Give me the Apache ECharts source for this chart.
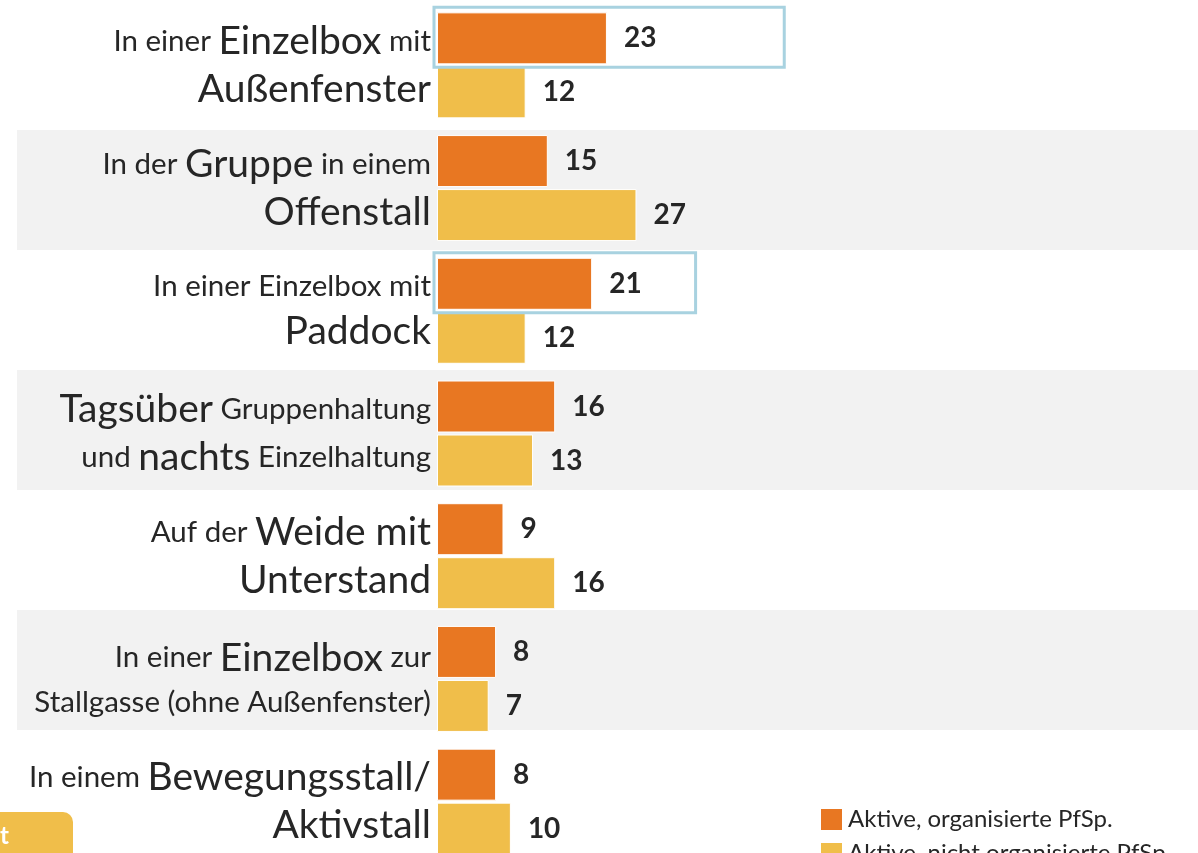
<!DOCTYPE html>
<html>
<head>
<meta charset="utf-8">
<script src="https://cdn.jsdelivr.net/npm/echarts@6/dist/echarts.min.js"></script>
<style>
  html, body { margin: 0; padding: 0; background: #fff; }
  #main { width: 1198px; height: 853px; }
</style>
</head>
<body>
<div id="main"></div>
<script>
// Kategorien (rich text: {b|...} = große Schrift)
var categories = [
  'In einer {b|Einzelbox} mit\n{b|Außenfenster}',
  'In der {b|Gruppe} in einem\n{b|Offenstall}',
  'In einer Einzelbox mit\n{b|Paddock}',
  '{b|Tagsüber} Gruppenhaltung\nund {b|nachts} Einzelhaltung',
  'Auf der {b|Weide mit}\n{b|Unterstand}',
  'In einer {b|Einzelbox} zur\nStallgasse (ohne Außenfenster)',
  'In einem {b|Bewegungsstall/}\n{b|Aktivstall}'
];
var seriesNames = ['Aktive, organisierte PfSp.', 'Aktive, nicht organisierte PfSp.'];
var organisiert = [23, 15, 21, 16, 9, 8, 8];
var nichtOrganisiert = [12, 27, 12, 13, 16, 7, 10];
// markierte Zeilen und Ende des Rahmens (Achsenwert)
var highlightRows = [0, 2];
var highlightEnd = [47, 35];

var ORANGE = '#e87722';
var YELLOW = '#f0be4a';
var TEXT = '#262626';
var FONT = 'Lato, "Open Sans", sans-serif';
var BAR_W = 52;
var BAR_GAP = 2;

var chart = echarts.init(document.getElementById('main'));

var option = {
  animation: false,
  backgroundColor: '#fff',
  textStyle: { fontFamily: FONT },
  grid: [
    // nur für die grauen Streifen
    { left: 17, right: 0, top: 10, height: 840, outerBoundsMode: 'none' },
    // Balken
    { left: 437, right: 0, top: 4, height: 859, outerBoundsMode: 'none' }
  ],
  xAxis: [
    { gridIndex: 0, type: 'value', min: 0, max: 1, show: false },
    { gridIndex: 1, type: 'value', min: 0, max: 103, show: false }
  ],
  yAxis: [
    {
      gridIndex: 0, type: 'category', inverse: true, data: categories,
      axisLine: { show: false }, axisTick: { show: false }, axisLabel: { show: false },
      splitArea: { show: true, areaStyle: { color: ['#ffffff', '#f2f2f2'] } }
    },
    {
      gridIndex: 1, type: 'category', inverse: true, data: categories,
      axisLine: { show: false }, axisTick: { show: false },
      axisLabel: {
        margin: 6,
        color: TEXT,
        fontFamily: FONT,
        fontSize: 29.5,
        lineHeight: 42,
        align: 'right',
        rich: {
          b: { fontSize: 39, lineHeight: 48, color: TEXT, fontFamily: FONT }
        }
      }
    }
  ],
  legend: {
    orient: 'vertical',
    left: 814,
    top: 802,
    height: 200,
    itemWidth: 23,
    itemHeight: 23,
    itemGap: 9,
    icon: 'rect',
    textStyle: { fontSize: 24, color: TEXT, fontFamily: FONT },
    data: seriesNames
  },
  series: [
    {
      name: seriesNames[0],
      type: 'bar',
      xAxisIndex: 1, yAxisIndex: 1,
      barWidth: BAR_W,
      barGap: (BAR_GAP / BAR_W * 100) + '%',
      data: organisiert,
      itemStyle: { color: ORANGE, borderColor: '#fff', borderWidth: 1 },
      label: {
        show: true, position: 'right', distance: 17,
        fontSize: 28, fontWeight: 'bold', color: TEXT, fontFamily: FONT
      }
    },
    {
      name: seriesNames[1],
      type: 'bar',
      xAxisIndex: 1, yAxisIndex: 1,
      barWidth: BAR_W,
      data: nichtOrganisiert,
      itemStyle: { color: YELLOW, borderColor: '#fff', borderWidth: 1 },
      label: {
        show: true, position: 'right', distance: 17,
        fontSize: 28, fontWeight: 'bold', color: TEXT, fontFamily: FONT
      }
    }
  ]
};
chart.setOption(option);

// Rahmen um markierte Balken + Kasten unten links
var graphics = [];
highlightRows.forEach(function (row, i) {
  var cy = chart.convertToPixel({ yAxisIndex: 1 }, row);
  var x0 = chart.convertToPixel({ xAxisIndex: 1 }, 0);
  var x1 = chart.convertToPixel({ xAxisIndex: 1 }, highlightEnd[i]);
  var barTop = cy - (BAR_W * 2 + BAR_GAP) / 2;
  graphics.push({
    type: 'rect',
    z: 100,
    shape: { x: x0 - 3, y: barTop - 5, width: x1 - x0 + 3, height: BAR_W + 8 },
    style: { fill: 'none', stroke: '#a8d2e0', lineWidth: 3 }
  });
});
graphics.push({
  type: 'rect',
  shape: { x: -20, y: 812, width: 93, height: 70, r: 10 },
  style: { fill: YELLOW }
});
graphics.push({
  type: 'text',
  left: 0, top: 824,
  style: { text: 't', fill: '#fff', font: 'bold 24px ' + FONT }
});
chart.setOption({ graphic: graphics });
</script>
</body>
</html>
